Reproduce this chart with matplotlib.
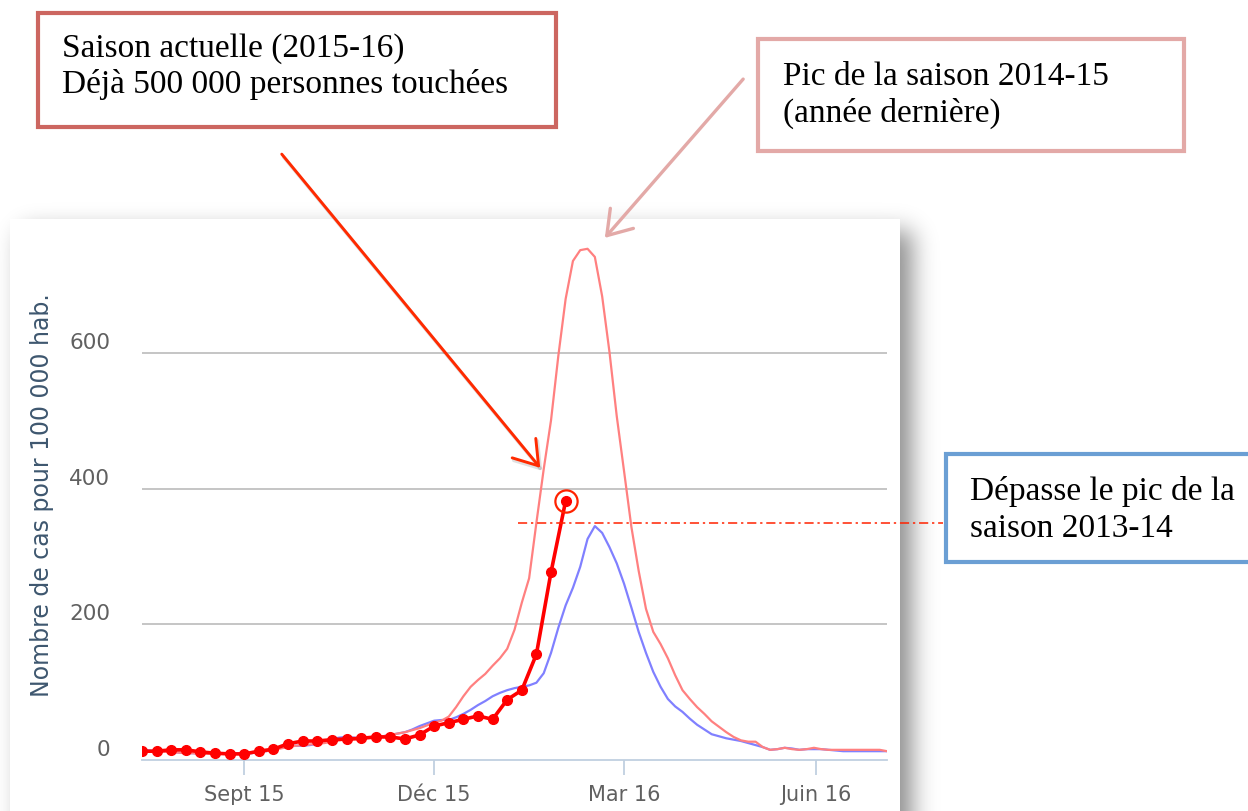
import math
import numpy as np
import matplotlib
matplotlib.use("Agg")
import matplotlib.pyplot as plt
from matplotlib.patches import Rectangle, FancyArrowPatch, ArrowStyle
from matplotlib.transforms import ScaledTranslation, blended_transform_factory
from matplotlib.lines import Line2D

# ---------------- data ----------------
first_week = "2015-07-14"
# current season, weekly
season_2015_16 = [13, 13, 15, 15, 12, 10, 9, 9, 13, 16, 24, 28, 28, 30, 31, 32, 34, 34, 31, 37,
                  50, 55, 60, 65, 60, 89, 103, 156, 277, 382]
# previous seasons, read every half week
season_2014_15 = [13, 12, 12, 12, 12, 11, 10, 10, 9, 9, 9, 9, 9, 9, 10, 11, 12, 13, 15, 17,
                  19, 21, 22, 23, 24, 25, 27, 29, 30, 30, 31, 33, 34, 35, 37, 39, 41, 44, 47, 51,
                  55, 58, 64, 78, 94, 108, 118, 127, 139, 150, 164, 192, 232, 268, 350, 429, 501, 596, 680, 736,
                  752, 754, 742, 684, 602, 507, 426, 344, 279, 223, 189, 171, 150, 125, 103, 90, 78, 68, 57, 49,
                  41, 34, 29, 27, 27, 19, 15, 16, 18, 16, 15, 16, 18, 16, 15, 15, 15, 15, 15, 15,
                  15, 15, 13]
season_2013_14 = [15, 14, 13, 12, 12, 11, 10, 10, 9, 9, 9, 9, 10, 10, 10, 10, 12, 13, 15, 18,
                  21, 21, 21, 22, 24, 27, 31, 33, 34, 33, 32, 33, 34, 35, 37, 39, 41, 45, 50, 54,
                  58, 59, 59, 63, 68, 74, 81, 87, 94, 99, 103, 106, 108, 110, 114, 128, 158, 195, 228, 254,
                  285, 326, 345, 335, 314, 290, 260, 225, 189, 158, 130, 108, 90, 79, 71, 61, 52, 45, 38, 35,
                  32, 30, 28, 25, 22, 19, 15, 16, 18, 17, 15, 16, 16, 16, 15, 14, 13, 13, 13, 13,
                  13, 13, 13]
x_tick_dates = ["2015-09-01", "2015-12-01", "2016-03-01", "2016-06-01"]
x_tick_labels = ["Sept 15", "Déc 15", "Mar 16", "Juin 16"]
y_ticks = [0, 200, 400, 600]
y_title = "Nombre de cas pour 100 000 hab."
peak_2013_14 = 350
box1_lines = ["Saison actuelle (2015-16)", "Déjà 500 000 personnes touchées"]
box2_lines = ["Pic de la saison 2014-15", "(année dernière)"]
box3_lines = ["Dépasse le pic de la", "saison 2013-14"]

start = np.datetime64(first_week, "h")
weeks = start + np.arange(len(season_2015_16)) * np.timedelta64(168, "h")
half_weeks = start + np.arange(len(season_2014_15)) * np.timedelta64(84, "h")
x_ticks = np.array(x_tick_dates, dtype="datetime64[h]")

W, H = 1248, 812
fig = plt.figure(figsize=(W / 100, H / 100), dpi=100)
fig.patch.set_facecolor("white")

# ---------------- background panel with shadow ----------------
bg = fig.add_axes([0, 0, 1, 1], zorder=0)
bg.set_xlim(0, W)
bg.set_ylim(H, 0)
bg.axis("off")

def phi(v):
    return 0.5 * (1 + math.erf(v / math.sqrt(2)))

xs = np.arange(W) + 0.5
ys = np.arange(H) + 0.5
sx = 12.0
fx = np.array([phi((x - 22) / sx) * phi((912 - x) / sx) for x in xs])
fy = np.array([phi((y - 232) / sx) for y in ys])
alpha = 0.45 * np.outer(fy, fx)
img = np.zeros((H, W, 4))
img[..., 3] = alpha
bg.imshow(img, extent=(0, W, H, 0), interpolation="bilinear", zorder=0)
bg.add_patch(Rectangle((10, 220), 890, 600, facecolor="white", edgecolor="none", zorder=1))

# ---------------- chart ----------------
ax_left, ax_right, ax_bottom_px = 142, 887, 761
ymax = 800
px_per_unit = 0.678
ax_top_px = ax_bottom_px - ymax * px_per_unit
ax = fig.add_axes([ax_left / W, (H - ax_bottom_px) / H, (ax_right - ax_left) / W,
                   (ax_bottom_px - ax_top_px) / H], zorder=2)
ax.set_facecolor("none")
ax.set_xlim(half_weeks[0], half_weeks[-1])
ax.set_ylim(0, ymax)

for v in y_ticks[1:]:
    ax.axhline(v, color="#c0c0c0", lw=1.3, zorder=1)

for s in ["top", "right", "left"]:
    ax.spines[s].set_visible(False)
ax.spines["bottom"].set_color("#c0d0e0")
ax.spines["bottom"].set_linewidth(1.3)

ax.set_xticks(x_ticks)
ax.set_xticklabels(x_tick_labels)
ax.tick_params(axis="x", length=11, width=1.3, color="#c0d0e0", labelsize=15,
               labelcolor="#606060", pad=6)
ax.set_yticks(y_ticks)
ax.set_yticklabels([str(v) for v in y_ticks])
ax.tick_params(axis="y", length=0, labelsize=15.5, labelcolor="#606060", pad=23)
for lab in ax.get_yticklabels():
    lab.set_transform(lab.get_transform() + ScaledTranslation(0, 13 / 100, fig.dpi_scale_trans))

ax.plot(half_weeks, season_2013_14, color="#8080ff", lw=1.6, zorder=3,
        solid_joinstyle="round")
ax.plot(half_weeks, season_2014_15, color="#ff8080", lw=1.6, zorder=3,
        solid_joinstyle="round")
ax.plot(weeks, season_2015_16, color="#ff0000", lw=2.6, marker="o", ms=7, zorder=4)
ax.plot(weeks[-1], season_2015_16[-1], marker="o", ms=16,
        mfc="none", mec="#ff2200", mew=1.6, zorder=5, clip_on=False)

fig.text(42 / W, 1 - 495 / H, y_title, rotation=90, ha="center", va="center",
         fontsize=17, color="#3e576f")

# ---------------- overlay annotations ----------------
ov = fig.add_axes([0, 0, 1, 1], zorder=10)
ov.set_xlim(0, W)
ov.set_ylim(H, 0)
ov.axis("off")
ov.set_facecolor("none")

tr = blended_transform_factory(ov.transData, ax.transData)
ov.add_line(Line2D([518, 943], [peak_2013_14, peak_2013_14], transform=tr,
                   color="#ff2200", lw=1.1, linestyle=(0, (6, 2.5, 1.5, 2.5))))

serif = "Liberation Serif"
fs_box = 24

def box(x0, y0, x1, y1, color, lines, tx, baselines):
    ov.add_patch(Rectangle((x0, y0), x1 - x0, y1 - y0, facecolor="white",
                           edgecolor=color, lw=3.0, zorder=3, clip_on=False))
    for line, b in zip(lines, baselines):
        ov.text(tx, b, line, fontsize=fs_box, family=serif, color="black",
                ha="left", va="baseline", zorder=4)

box(38, 14, 556, 128, "#cc6660", box1_lines, 62, [57, 93])
box(758, 40, 1184, 152, "#e3a9a7", box2_lines, 783, [85, 122])
box(946, 455, 1262, 563, "#6b9fd4", box3_lines, 970, [500, 537])

def arrow(p0, p1, color, lw, shadow):
    style = ArrowStyle("->", head_length=0.75, head_width=0.5)
    if shadow:
        sh = FancyArrowPatch((p0[0] + 2, p0[1] + 3), (p1[0] + 2, p1[1] + 3), arrowstyle=style,
                             mutation_scale=22, color="black", alpha=0.12, lw=lw + 0.5, zorder=5)
        ov.add_patch(sh)
    a = FancyArrowPatch(p0, p1, arrowstyle=style, mutation_scale=22, color=color,
                        lw=lw, zorder=6)
    ov.add_patch(a)

arrow((280, 153), (542, 471), "#ff2a00", 2.1, True)
arrow((745, 78), (603, 241), "#e3a9a7", 2.4, False)

fig.savefig("out.png", dpi=100, facecolor="white")
